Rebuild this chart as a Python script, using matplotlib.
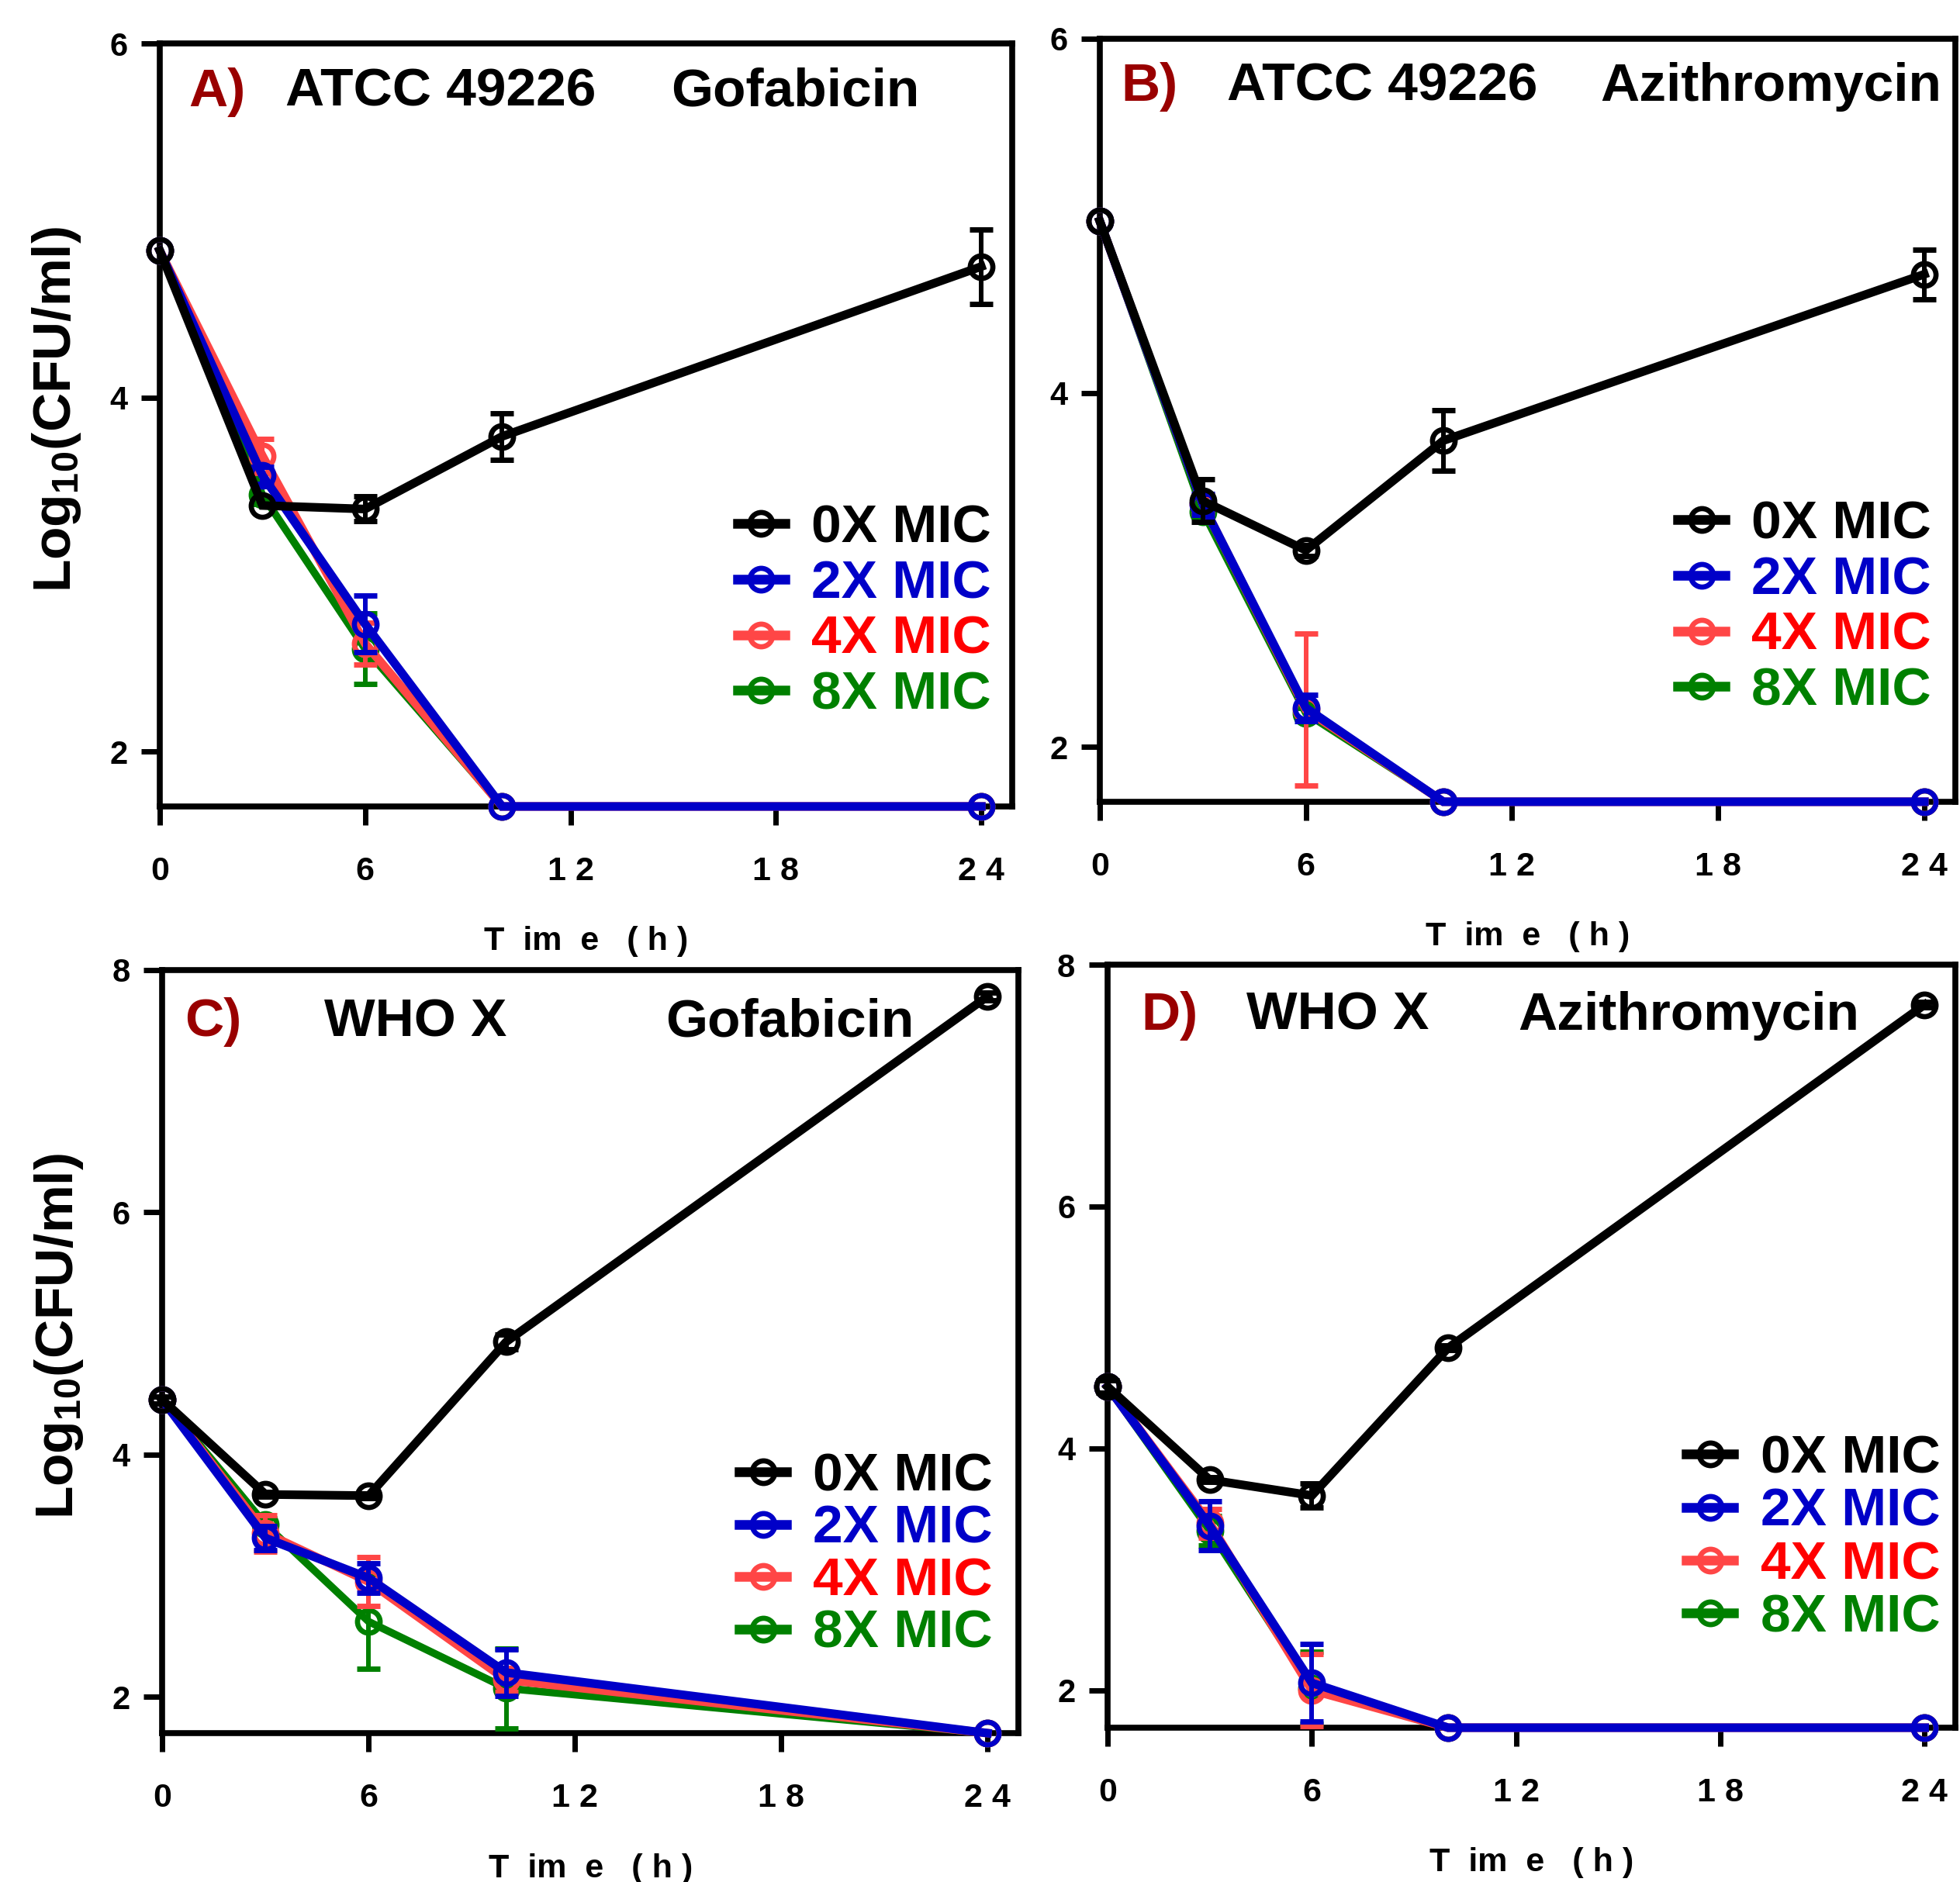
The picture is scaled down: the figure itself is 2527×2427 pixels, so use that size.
import numpy as np
import matplotlib
matplotlib.use("Agg")
import matplotlib.pyplot as plt

plt.rcParams['font.family'] = ['Liberation Sans', 'DejaVu Sans']
plt.rcParams['font.weight'] = 'bold'
plt.rcParams['mathtext.fontset'] = 'custom'
plt.rcParams['mathtext.rm'] = 'Liberation Sans:bold'
plt.rcParams['mathtext.bf'] = 'Liberation Sans:bold'
plt.rcParams['mathtext.default'] = 'rm'

# ---------------- data ----------------
times = np.array([0, 3, 6, 10, 24])
series_labels = ["0X MIC", "2X MIC", "4X MIC", "8X MIC"]
x_ticks = [0, 6, 12, 18, 24]
x_ticklabels = ["0", "6", "1 2", "1 8", "2 4"]

# Panel A: ATCC 49226, Gofabicin
A_0x = [4.83, 3.39, 3.37, 3.78, 4.74]
A_0x_err = [0, 0, 0.07, 0.13, 0.21]
A_2x = [4.83, 3.56, 2.72, 1.69, 1.69]
A_2x_err = [0, 0.05, 0.16, 0, 0]
A_4x = [4.83, 3.67, 2.61, 1.69, 1.69]
A_4x_err = [0, 0.095, 0.12, 0, 0]
A_8x = [4.83, 3.45, 2.58, 1.69, 1.69]
A_8x_err = [0, 0.05, 0.20, 0, 0]

# Panel B: ATCC 49226, Azithromycin
B_0x = [4.97, 3.39, 3.11, 3.73, 4.67]
B_0x_err = [0, 0.12, 0.03, 0.17, 0.14]
B_2x = [4.97, 3.37, 2.22, 1.69, 1.69]
B_2x_err = [0, 0.06, 0.075, 0, 0]
B_4x = [4.97, 3.37, 2.21, 1.69, 1.69]
B_4x_err = [0, 0.05, 0.43, 0, 0]
B_8x = [4.97, 3.33, 2.19, 1.69, 1.69]
B_8x_err = [0, 0.03, 0.03, 0, 0]

# Panel C: WHO X, Gofabicin
C_0x = [4.45, 3.67, 3.66, 4.93, 7.78]
C_0x_err = [0.03, 0.02, 0.02, 0.06, 0.03]
C_2x = [4.45, 3.31, 2.98, 2.20, 1.70]
C_2x_err = [0, 0.10, 0.12, 0.19, 0]
C_4x = [4.45, 3.35, 2.95, 2.14, 1.70]
C_4x_err = [0, 0.15, 0.20, 0.10, 0]
C_8x = [4.45, 3.42, 2.62, 2.07, 1.70]
C_8x_err = [0, 0.05, 0.39, 0.33, 0]

# Panel D: WHO X, Azithromycin
D_0x = [4.51, 3.74, 3.61, 4.83, 7.67]
D_0x_err = [0.05, 0.02, 0.10, 0.02, 0.02]
D_2x = [4.51, 3.36, 2.06, 1.69, 1.69]
D_2x_err = [0, 0.20, 0.32, 0, 0]
D_4x = [4.51, 3.38, 2.00, 1.69, 1.69]
D_4x_err = [0, 0.12, 0.30, 0, 0]
D_8x = [4.51, 3.32, 2.02, 1.69, 1.69]
D_8x_err = [0, 0.12, 0.30, 0, 0]

# ---------------- style ----------------
line_colors = ['#000000', '#0000C8', '#FF4646', '#008000']
text_colors = ['#000000', '#0000C8', '#FF0000', '#008000']
line_widths = [8, 8, 8, 7]
zorders = [6, 5, 4, 3]
prefix_color = '#990000'

panels = [
    dict(pos=[0.0815, 0.5715, 0.4349, 0.4054], ylim=(1.69, 6), yticks=[2, 4, 6],
         data=[(A_0x, A_0x_err), (A_2x, A_2x_err), (A_4x, A_4x_err), (A_8x, A_8x_err)],
         titles=[("A)", 0.034, prefix_color), ("ATCC 49226", 0.147, 'black'), ("Gofabicin", 0.600, 'black')],
         title_y=0.918, leg=(0.975, 0.255), lsp=0.11, ylabel=True),
    dict(pos=[0.5611, 0.5740, 0.4365, 0.4054], ylim=(1.69, 6), yticks=[2, 4, 6],
         data=[(B_0x, B_0x_err), (B_2x, B_2x_err), (B_4x, B_4x_err), (B_8x, B_8x_err)],
         titles=[("B)", 0.025, prefix_color), ("ATCC 49226", 0.149, 'black'), ("Azithromycin", 0.585, 'black')],
         title_y=0.919, leg=(0.972, 0.254), lsp=0.11, ylabel=False),
    dict(pos=[0.0829, 0.0791, 0.4367, 0.4056], ylim=(1.70, 8), yticks=[2, 4, 6, 8],
         data=[(C_0x, C_0x_err), (C_2x, C_2x_err), (C_4x, C_4x_err), (C_8x, C_8x_err)],
         titles=[("C)", 0.026, prefix_color), ("WHO X", 0.189, 'black'), ("Gofabicin", 0.588, 'black')],
         title_y=0.913, leg=(0.970, 0.233), lsp=0.05, ylabel=True),
    dict(pos=[0.5651, 0.0820, 0.4325, 0.4054], ylim=(1.69, 8), yticks=[2, 4, 6, 8],
         data=[(D_0x, D_0x_err), (D_2x, D_2x_err), (D_4x, D_4x_err), (D_8x, D_8x_err)],
         titles=[("D)", 0.040, prefix_color), ("WHO X", 0.164, 'black'), ("Azithromycin", 0.484, 'black')],
         title_y=0.915, leg=(0.982, 0.248), lsp=0.06, ylabel=False),
]

fig = plt.figure(figsize=(25.27, 24.27), dpi=100)

for p in panels:
    ax = fig.add_axes(p['pos'])
    handles = []
    for i, (vals, errs) in enumerate(p['data']):
        vals = np.asarray(vals, dtype=float)
        errs = np.asarray(errs, dtype=float)
        ln, = ax.plot(times, vals, color=line_colors[i], lw=line_widths[i],
                      marker='o', ms=21, mfc='none', mew=4.8, mec=line_colors[i],
                      zorder=zorders[i], clip_on=False, label=series_labels[i],
                      solid_joinstyle='miter')
        m = errs > 0
        ax.errorbar(times[m], vals[m], yerr=errs[m], fmt='none', ecolor=line_colors[i],
                    elinewidth=4.3, capsize=10.5, capthick=5, zorder=zorders[i],
                    clip_on=False)
        handles.append(ln)

    ax.set_xlim(0, 24.9)
    ax.set_ylim(*p['ylim'])
    ax.set_xticks(x_ticks)
    ax.set_xticklabels(x_ticklabels)
    ax.set_yticks(p['yticks'])
    ax.set_yticklabels([str(v) for v in p['yticks']])
    ax.tick_params(axis='x', direction='out', length=17, width=5, pad=29, labelsize=31)
    ax.tick_params(axis='y', direction='out', length=17, width=5, pad=13, labelsize=30)
    for s in ax.spines.values():
        s.set_linewidth(5.5)

    ax.set_xlabel('T  im  e   ( h )', fontsize=31, fontweight='bold')
    ax.xaxis.set_label_coords(0.5, -0.157)
    if p['ylabel']:
        ax.set_ylabel('Log$_{10}$(CFU/ml)', fontsize=50, fontweight='bold')
        ax.yaxis.set_label_coords(-0.09, 0.52)

    for txt, xpos, col in p['titles']:
        ax.text(xpos, p['title_y'], txt, transform=ax.transAxes, fontsize=50,
                fontweight='bold', color=col, ha='left', va='baseline')

    leg = ax.legend(handles=handles, loc='center right', bbox_to_anchor=p['leg'],
                    frameon=False, fontsize=50, borderpad=0, borderaxespad=0,
                    handlelength=0.88, handletextpad=0.49, labelspacing=p['lsp'],
                    numpoints=1, labelcolor=text_colors)
    for lh in leg.legend_handles:
        lh.set_linewidth(9)

fig.savefig('out.png', dpi=100)
